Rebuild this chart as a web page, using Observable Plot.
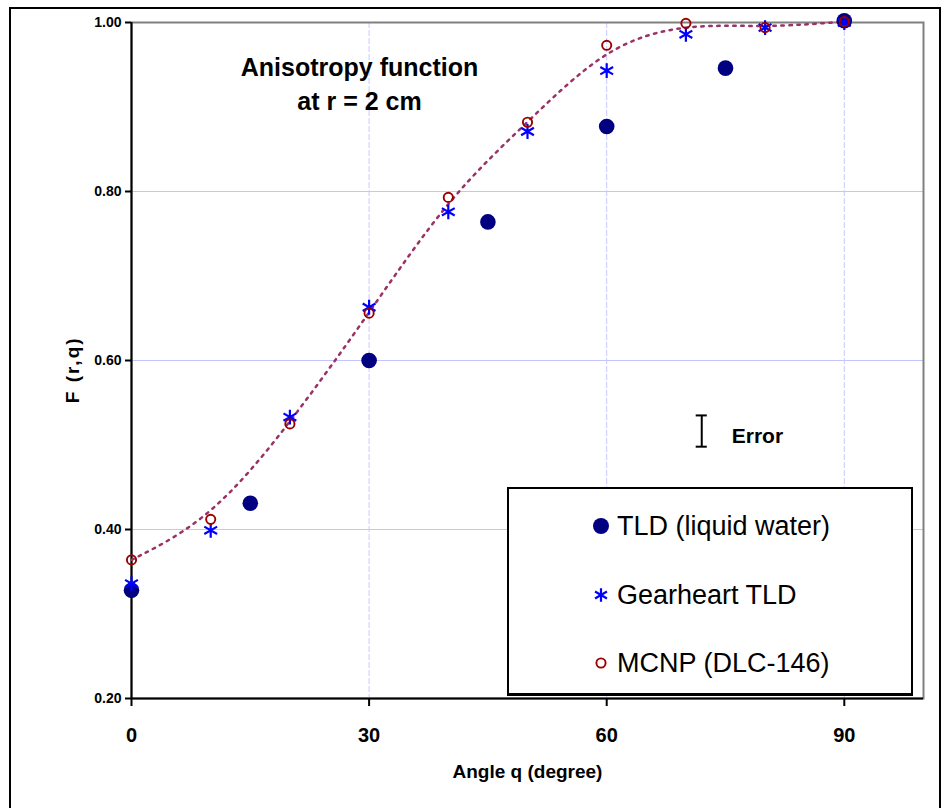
<!DOCTYPE html>
<html>
<head>
<meta charset="utf-8">
<script src="https://cdn.jsdelivr.net/npm/d3@7"></script>
<script src="https://cdn.jsdelivr.net/npm/@observablehq/plot@0.6"></script>
<style>
  html, body { margin: 0; padding: 0; background: #fff; }
  #wrap { position: relative; width: 947px; height: 808px; overflow: hidden; font-family: "Liberation Sans", Arial, sans-serif; }
  #border { position: absolute; left: 9px; top: 7px; width: 932px; height: 820px; border: 2px solid #000; box-sizing: border-box; pointer-events: none; }
  #legend { position: absolute; left: 507px; top: 487px; width: 406px; height: 209px; border: 2px solid #000; border-bottom-width: 3px; box-sizing: border-box; background: #fff; }
  .row { position: absolute; left: 0; height: 30px; }
  .row svg { position: absolute; left: 80px; top: 3px; }
  .row span { position: absolute; left: 108px; white-space: nowrap; font-size: 27px; color: #000; line-height: 30px; top: 0; }
</style>
</head>
<body>
<div id="wrap"><div id="chart"></div><div id="legend"></div><div id="border"></div></div>
<script>
// ---- data ----
const tldAngles = [0, 15, 30, 45, 60, 75, 90];
const tldValues = [0.328, 0.431, 0.600, 0.764, 0.877, 0.946, 1.002];

const gearAngles = [0, 10, 20, 30, 40, 50, 60, 70, 80, 90];
const gearValues = [0.336, 0.399, 0.533, 0.663, 0.776, 0.871, 0.943, 0.986, 0.994, 1.000];

const mcnpAngles = [0, 10, 20, 30, 40, 50, 60, 70, 80, 90];
const mcnpValues = [0.364, 0.412, 0.525, 0.656, 0.793, 0.882, 0.973, 0.999, 0.994, 1.001];

const seriesNames = ["TLD (liquid water)", "Gearheart TLD", "MCNP (DLC-146)"];
const xTicks = [0, 30, 60, 90];
const yTicks = [0.20, 0.40, 0.60, 0.80, 1.00];
const yGrid = [0.40, 0.60, 0.80];
const xGrid = [30, 60, 90];
const titleText = "Anisotropy function\nat r = 2 cm";
const xLabel = "Angle q (degree)";
const yLabel = "F (r,q)";
const yLabelAt = 0.589;
// error bar annotation
const errX = [72];
const errLow = 0.498, errHigh = 0.535, errCapHalf = 0.7;
const errLabel = "Error";

const tld = tldAngles.map((a, i) => ({x: a, y: tldValues[i]}));
const gear = gearAngles.map((a, i) => ({x: a, y: gearValues[i]}));
const mcnp = mcnpAngles.map((a, i) => ({x: a, y: mcnpValues[i]}));

const colors = {tld: "#000080", gear: "#0000ff", mcnp: "#990000", curve: "#993366"};
const font = "'Liberation Sans', Arial, sans-serif";

const chart = Plot.plot({
  width: 947,
  height: 808,
  marginLeft: 131,
  marginRight: 24,
  marginTop: 22,
  marginBottom: 110,
  style: {fontFamily: font, background: "transparent", color: "#000"},
  x: {domain: [0, 100]},
  y: {domain: [0.2, 1.0]},
  marks: [
    Plot.ruleY(yGrid, {stroke: "#c4c4ff", strokeWidth: 1.2}),
    Plot.ruleX(xGrid, {stroke: "#c8c8ff", strokeWidth: 1, strokeDasharray: "6,2"}),
    Plot.frame({stroke: "#808080", strokeWidth: 2}),
    Plot.ruleX([0], {stroke: "#000", strokeWidth: 2}),
    Plot.ruleY([0.2], {stroke: "#000", strokeWidth: 2}),
    Plot.axisX({ticks: xTicks, tickSize: 8, tickPadding: 21, fontSize: 20, fontWeight: "bold", strokeWidth: 2, label: null, tickFormat: d => String(d)}),
    Plot.axisY({ticks: yTicks, tickSize: 6, tickPadding: 4, fontSize: 14, fontWeight: "bold", strokeWidth: 2, label: null, tickFormat: d3.format(".2f")}),
    Plot.text([xLabel], {frameAnchor: "bottom", dy: 73, lineAnchor: "middle", fontSize: 19, fontWeight: "bold", fill: "#000"}),
    Plot.text([yLabel], {x: [0], y: [yLabelAt], dx: -59, rotate: -90, lineAnchor: "middle", textAnchor: "middle", fontSize: 19, fontWeight: "bold", fill: "#000"}),
    Plot.text([titleText], {frameAnchor: "top-left", dx: 228, dy: 29, lineAnchor: "top", textAnchor: "middle", lineHeight: 1.36, fontSize: 25, fontWeight: "bold", fill: "#000"}),
    Plot.line(mcnp, {x: "x", y: "y", curve: "basis", stroke: colors.curve, strokeWidth: 2.5, strokeDasharray: "2.5,5.5"}),
    Plot.dot(tld, {x: "x", y: "y", r: 7.8, fill: colors.tld, stroke: "none"}),
    Plot.dot(gear, {x: "x", y: "y", r: 7, symbol: "asterisk", stroke: colors.gear, strokeWidth: 2.2}),
    Plot.dot(mcnp, {x: "x", y: "y", r: 4.6, fill: "none", stroke: colors.mcnp, strokeWidth: 1.9}),
    Plot.ruleX(errX, {y1: errLow, y2: errHigh, stroke: "#000", strokeWidth: 2}),
    Plot.ruleY([errLow, errHigh], {x1: errX[0] - errCapHalf, x2: errX[0] + errCapHalf, stroke: "#000", strokeWidth: 2}),
    Plot.text([errLabel], {x: errX[0], y: 0.510, dx: 30, textAnchor: "start", lineAnchor: "middle", fontSize: 21, fontWeight: "bold", fill: "#000"})
  ]
});
document.getElementById("chart").appendChild(chart);
// widen the rotated y-axis label like the reference
d3.select(chart).selectAll("text").filter(function () { return this.textContent === yLabel; })
  .style("letter-spacing", "2px");

// ---- legend ----
const legend = document.getElementById("legend");
const rowTops = [22, 91, 159];
const symbols = [
  `<circle cx="12" cy="12" r="8" fill="${colors.tld}"/>`,
  `<path transform="translate(12,12)" d="${d3.symbol(d3.symbolAsterisk, Math.PI * 6.5 * 6.5)()}" stroke="${colors.gear}" stroke-width="2.2" fill="none"/>`,
  `<circle cx="12" cy="12" r="4.6" fill="none" stroke="${colors.mcnp}" stroke-width="1.9"/>`
];
seriesNames.forEach((name, i) => {
  const row = document.createElement("div");
  row.className = "row";
  row.style.top = rowTops[i] + "px";
  row.innerHTML = `<svg width="24" height="24">${symbols[i]}</svg><span>${name}</span>`;
  legend.appendChild(row);
});
</script>
</body>
</html>
